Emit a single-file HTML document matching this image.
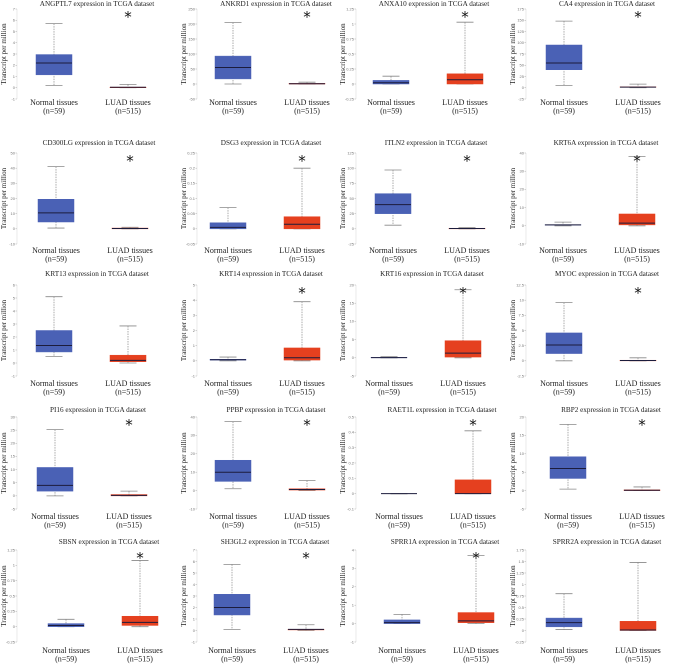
<!DOCTYPE html>
<html><head><meta charset="utf-8">
<style>
html,body{margin:0;padding:0;background:#fff;}
svg{display:block;}
text{font-family:"Liberation Serif",serif;}
</style></head>
<body>
<svg id="chart" width="676" height="667" viewBox="0 0 676 667" xmlns="http://www.w3.org/2000/svg"></svg>
<script>
const genes = ["ANGPTL7","ANKRD1","ANXA10","CA4","CD300LG","DSG3","ITLN2","KRT6A","KRT13","KRT14","KRT16","MYOC","PI16","PPBP","RAET1L","RBP2","SBSN","SH3GL2","SPRR1A","SPRR2A"];
const normalStats = [
[0.2,1.15,2.2,2.95,5.7],[0,17,55,93,205],[0,0,0.02,0.06,0.13],[5,40,55,95,148],
[0.5,4.5,10.5,19.5,41],[0,0,0.005,0.02,0.07],[6,25,40,58,97],[0,0.4,0.5,0.6,2],
[0.5,0.85,1.35,2.5,5.1],[0,0.05,0.07,0.1,0.25],[0,0,0.05,0.1,0.3],[0,1.2,2.6,4.6,9.6],
[0,1.8,4,10.8,25.2],[1,5,10,16.5,37.5],[0,0,0,0,0],[0.4,3.3,6,9.2,18],
[0,0,0.02,0.05,0.12],[0.1,1.35,2,3.15,5.75],[0,0,0.05,0.2,0.5],[0.02,0.08,0.17,0.27,0.8]];
const luadStats = [
[0,0,0.05,0.05,0.3],[0,0,1,2,6],[0,0,0.07,0.17,1.03],[0,1,1.5,2,8],
[0,0,0.2,0.5,1],[0,0,0.015,0.04,0.2],[0,0,0.5,1,2],[0,0.5,1.5,6.5,38],
[0,0.1,0.2,0.6,2.85],[0,0.05,0.2,0.85,3.9],[0,0.2,1.3,4.7,18.7],[0,0,0.05,0.1,0.5],
[0,0,0.2,0.5,1.8],[0,0.3,0.6,1,5.5],[0,0,0,0.09,0.41],[0,0,0.1,0.2,1],
[0,0.02,0.07,0.17,1.08],[0,0.05,0.1,0.1,0.5],[0,0.05,0.15,0.6,3.7],[0,0,0.01,0.2,1.48]];
const tickMin = [-1,-50,-0.25,-25,-10,-0.05,-25,-10,-1,-1,-5,-2.5,-5,-10,-0.1,-5,-0.25,-1,-1,-0.25];
const tickMax = [7,250,1.25,175,50,0.25,125,40,6,5,20,12.5,30,40,0.5,20,1.25,7,4,1.75];
const tickStep = [1,50,0.25,25,10,0.05,25,10,1,1,5,2.5,5,10,0.1,5,0.25,1,1,0.25];
const stars = [1,1,1,1,1,1,1,1,0,1,1,1,1,1,1,1,1,1,1,0];

// layout (not data)
const rowGeom = [[3,9,99,102],[142,153,244,250],[273,285,376,383],[409,417,509,516],[541,550,642,650]];
const colNormal = [[54,233,391,564],[56,228,393,563],[54,228,389,564],[55,233,399,568],[66,232,402,564]];
const axisX = [12,192,351,521];

const svg = document.getElementById('chart');
const NS = "http://www.w3.org/2000/svg";
function mk(tag, attrs, parent){
  const e = document.createElementNS(NS, tag);
  for (const k in attrs) e.setAttribute(k, attrs[k]);
  (parent||svg).appendChild(e);
  return e;
}
function fmt(v){ return String(Math.round(v*1000)/1000); }

for (let i=0;i<genes.length;i++){
  const r = Math.floor(i/4), c = i%4;
  const [ty, top, bot, ly] = rowGeom[r];
  const nx = colNormal[r][c], lx = nx+74;
  const ax = axisX[c];
  const y = v => bot - (v - tickMin[i])/(tickMax[i]-tickMin[i])*(bot-top);
  const g = mk('g', {});
  
  

  const t = mk('text', {x:(nx+lx)/2+6, y:ty+3, 'font-size':7.2, 'text-anchor':'middle', fill:'#222'}, g);
  t.textContent = genes[i] + " expression in TCGA dataset";
  
  

  const yt = mk('text', {x:0, y:0, 'font-size':7, 'text-anchor':'middle', fill:'#222',
    transform:`translate(${ax-6},${(top+bot)/2}) rotate(-90)`}, g);
  yt.textContent = "Transcript per million";
  
  

  const al = mk('line', {x1:ax+5, x2:ax+5, y1:top, y2:bot, stroke:'#ddd', 'stroke-width':0.6}, g);
  
  
  const nT = Math.round((tickMax[i]-tickMin[i])/tickStep[i]);
  for (let k=0;k<=nT;k++){
    const v = tickMin[i] + k*tickStep[i];
    const tl = mk('text', {x:ax+3, y:y(v)+1.3, 'font-size':4, 'text-anchor':'end', fill:'#777',
      style:'font-family:"Liberation Sans",sans-serif'}, g);
    tl.textContent = fmt(v);
    
    
    mk('line', {x1:ax+3.5, x2:ax+5, y1:y(v), y2:y(v), stroke:'#aaa', 'stroke-width':0.5}, g);
  }

  const groups = [[normalStats[i], nx, '#4a61b5', 'Normal tissues', '(n=59)', 'normal'],
                  [luadStats[i], lx, '#e5401f', 'LUAD tissues', '(n=515)', 'luad']];
  for (const [s, cx, col, lab, n, key] of groups){
    const w = mk('line', {x1:cx, x2:cx, y1:y(s[4]), y2:y(s[0]), stroke:'#888', 'stroke-width':0.7, 'stroke-dasharray':'1.5,1'}, g);
    
    
    mk('line', {x1:cx-8.5, x2:cx+8.5, y1:y(s[4]), y2:y(s[4]), stroke:'#888', 'stroke-width':0.8}, g);
    mk('line', {x1:cx-8.5, x2:cx+8.5, y1:y(s[0]), y2:y(s[0]), stroke:'#888', 'stroke-width':0.8}, g);
    const h = Math.max(y(s[1]) - y(s[3]), 0);
    const b = mk('rect', {x:cx-18, y:y(s[3]), width:36, height:h, fill:col, stroke:col, 'stroke-width':0.5}, g);
    
    
    const m = mk('line', {x1:cx-18, x2:cx+18, y1:y(s[2]), y2:y(s[2]), stroke:'#1c1c3c', 'stroke-width':1}, g);
    
    
    const l1 = mk('text', {x:cx, y:ly+3, 'font-size':8, 'text-anchor':'middle', fill:'#222'}, g);
    l1.textContent = lab;
    
    
    const l2 = mk('text', {x:cx, y:ly+11.5, 'font-size':8, 'text-anchor':'middle', fill:'#222'}, g);
    l2.textContent = n;
    
    
  }
  if (stars[i]){
    const st = mk('text', {x:lx, y:top+13, 'font-size':15, 'text-anchor':'middle', fill:'#111',
      style:'font-family:"DejaVu Sans",sans-serif'}, g);
    st.textContent = "*";
    
    
  }
}
</script>
</body></html>
